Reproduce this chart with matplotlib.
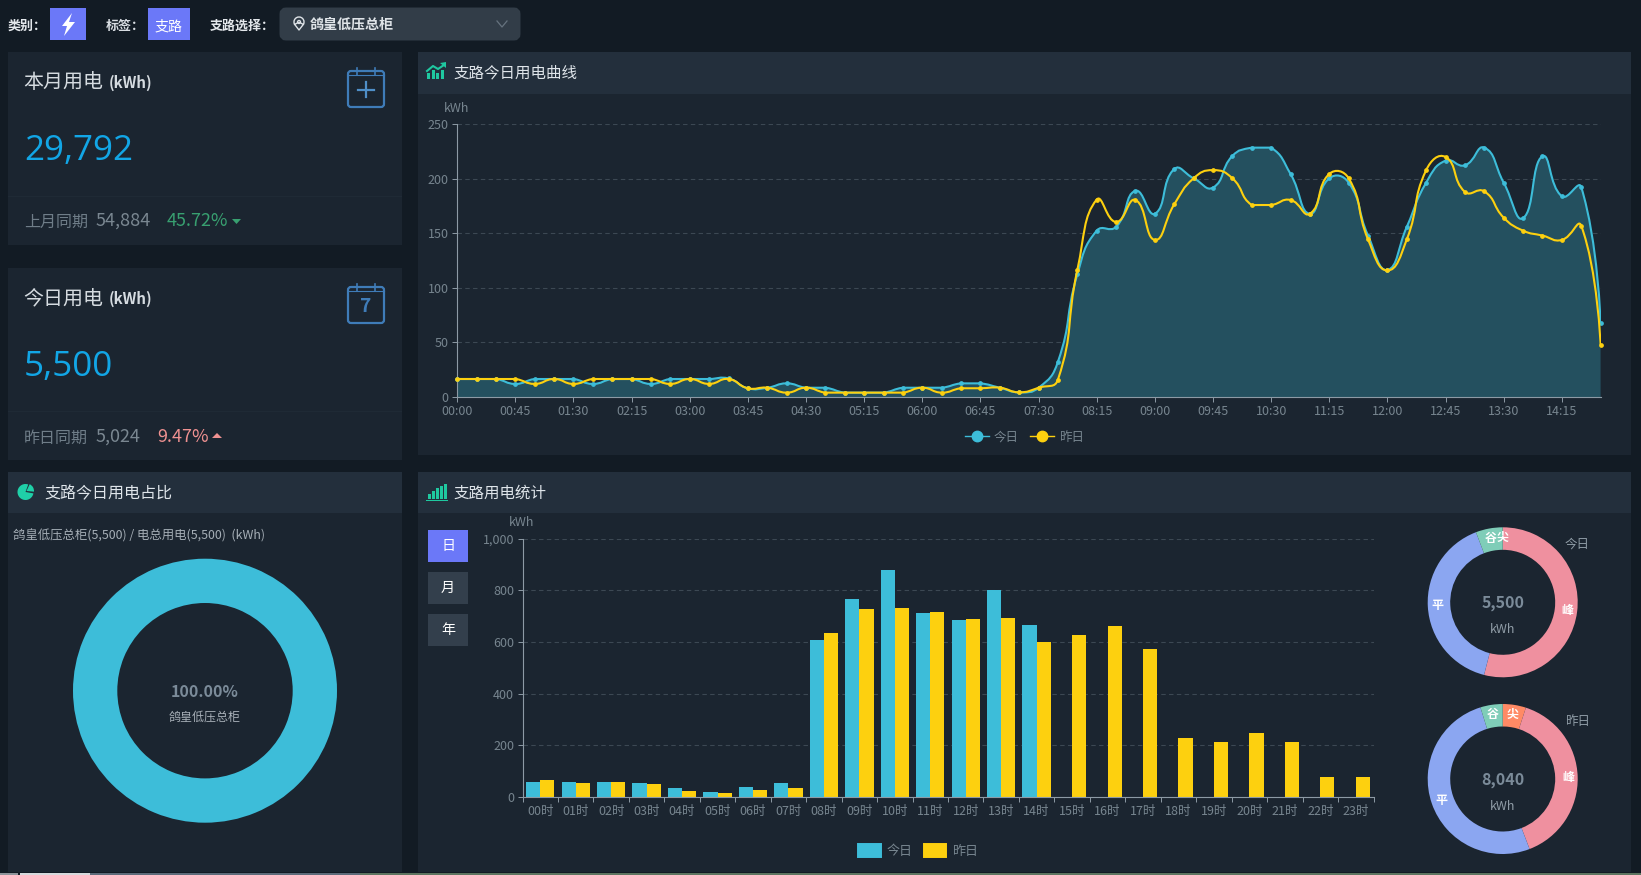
import numpy as np
import matplotlib
matplotlib.use('Agg')
import matplotlib.pyplot as plt
from matplotlib.lines import Line2D
from matplotlib.patches import Rectangle, FancyBboxPatch, PathPatch, Polygon, Circle, Wedge, Patch
from matplotlib.path import Path

plt.rcParams['font.family'] = ['Noto Sans CJK SC', 'DejaVu Sans']

W, H = 1641, 875

# today / yesterday curve, one point per 15 min
curve_ticks = ['00:00', '00:45', '01:30', '02:15', '03:00', '03:45', '04:30', '05:15', '06:00', '06:45',
               '07:30', '08:15', '09:00', '09:45', '10:30', '11:15', '12:00', '12:45', '13:30', '14:15']
curve_today = [16.5, 16.5, 16.5, 12, 16.5, 16.5, 16.5, 12, 16.5, 16.5,
               12, 16.5, 16.5, 16.5, 17, 8, 8.5, 12.5, 8.5, 8.5,
               4, 4, 4, 8.5, 8.5, 8.5, 12.5, 12.5, 8.5, 4.3,
               8.5, 32.4, 112.5, 152.5, 156, 189, 168, 209, 200.5, 192,
               221, 228.6, 228.6, 204.5, 168, 200.5, 196.5, 148, 116.5, 156,
               196.5, 216.7, 212.4, 228.6, 196.5, 164, 220.7, 184, 192.5, 68]
curve_yesterday = [16.5, 16.5, 16.5, 16.5, 12, 16.5, 12, 16.5, 16.5, 16.5,
                   16.5, 12, 16.5, 12, 16.5, 8, 8.5, 4, 8.5, 4,
                   4, 4, 4, 4, 8.5, 4, 8, 8, 8.5, 4.3,
                   8.5, 16, 116.5, 181, 160.5, 180.6, 144, 176.6, 200.5, 208,
                   200.5, 176, 176, 180.6, 168, 204.5, 200.5, 144.5, 116, 144.5,
                   208, 220, 188, 188.5, 164.4, 152.5, 148, 144, 157, 48]

# hourly bars
hours = ['00时', '01时', '02时', '03时', '04时', '05时', '06时', '07时', '08时', '09时', '10时', '11时',
         '12时', '13时', '14时', '15时', '16时', '17时', '18时', '19时', '20时', '21时', '22时', '23时']
hour_today = [60, 60, 60, 56, 36, 19, 40, 53, 609, 768, 881, 713, 686, 802, 665]
hour_yesterday = [65, 56, 60, 52, 23, 16, 27, 36, 636, 728, 733, 717, 690, 693, 602, 629, 661, 573,
                  229, 212, 248, 212, 78, 78]

# donuts
period_names = ['尖', '峰', '平', '谷']
period_today = [0, 2970, 2211, 319]
period_yesterday = [402, 3149, 4103, 386]
share_names = ['鸽皇低压总柜']
share_values = [5500]

BG = '#121b24'
PANEL = '#1b2530'
HEADER = '#232f3c'
BLUE = '#3dbdd9'
YELLOW = '#fdd00f'
TICK = '#77858f'
AXIS = '#8d9aa5'
GRID = '#3c4853'
CAL = '#3f7cb8'
PERIOD_COLORS = ['#ff8a65', '#ef909f', '#8ba6f1', '#7fcdb8']


def fs(px):
    return px * 0.72


def box_axes(fig, left, top, right, bottom):
    return fig.add_axes([left / W, 1 - bottom / H, (right - left) / W, (bottom - top) / H])


def smooth_path(x, y, sx, sy, smooth=0.5):
    # bezier through the points, same tangent rule as the web chart (done in pixel space)
    x = np.asarray(x, float)
    y = np.asarray(y, float)
    n = len(x)
    verts = [(x[0], y[0])]
    codes = [Path.MOVETO]
    after = {}
    before = {}
    for i in range(n):
        if i == 0 or i == n - 1:
            after[i] = (x[i], y[i])
            before[i] = (x[i], y[i])
            continue
        vx = (x[i + 1] - x[i - 1]) * smooth
        vy = (y[i + 1] - y[i - 1]) * smooth
        d0 = np.hypot((x[i] - x[i - 1]) * sx, (y[i] - y[i - 1]) * sy)
        d1 = np.hypot((x[i + 1] - x[i]) * sx, (y[i + 1] - y[i]) * sy)
        total = d0 + d1
        before[i] = (x[i] - vx * d0 / total, y[i] - vy * d0 / total)
        after[i] = (x[i] + vx * d1 / total, y[i] + vy * d1 / total)
    for i in range(n - 1):
        c0 = after[i]
        c1 = before[i + 1]
        # equal neighbours stay flat, no overshoot
        if y[i] == y[i + 1]:
            c0 = (c0[0], y[i])
            c1 = (c1[0], y[i])
        verts += [c0, c1, (x[i + 1], y[i + 1])]
        codes += [Path.CURVE4, Path.CURVE4, Path.CURVE4]
    return verts, codes


fig = plt.figure(figsize=(W / 100, H / 100), dpi=100, facecolor=BG)
bg = fig.add_axes([0, 0, 1, 1])
bg.set_xlim(0, W)
bg.set_ylim(H, 0)
bg.axis('off')


def rect(x0, y0, x1, y1, color, **kw):
    bg.add_patch(Rectangle((x0, y0), x1 - x0, y1 - y0, facecolor=color, edgecolor='none', **kw))


def label(x, y, s, px, color, weight='normal', ha='left', family=None):
    kw = {'family': family} if family else {}
    bg.text(x, y, s, fontsize=fs(px), color=color, weight=weight, ha=ha, va='center', **kw)


# panels
rect(8, 52, 402, 245, PANEL)
rect(8, 196, 402, 197, '#1f2a35')
rect(8, 268, 402, 460, PANEL)
rect(8, 411, 402, 412, '#1f2a35')
rect(8, 472, 402, 872, PANEL)
rect(8, 472, 402, 513, HEADER)
rect(418, 52, 1631, 455, PANEL)
rect(418, 52, 1631, 94, HEADER)
rect(418, 472, 1631, 872, PANEL)
rect(418, 472, 1631, 513, HEADER)
# screenshot edge
rect(0, 873, 18, H, '#8d959b')
rect(20, 873, 90, H, '#d6dadd')
rect(90, 873, 360, H, '#5c6b7a')
rect(360, 873, W, H, '#5d7560')

# top bar
label(8, 26, '类别：', 13, '#e4e8ec', weight='bold')
rect(50, 8, 86, 40, '#6b78f8')
bg.add_patch(Polygon([(72, 13), (62, 26), (67, 26), (64, 36), (75, 22), (69, 22)], facecolor='white', edgecolor='none'))
label(106, 26, '标签：', 13, '#d8dde2', weight='bold')
rect(148, 8, 190, 40, '#6b78f8')
label(169, 26, '支路', 14, 'white', ha='center')
label(210, 26, '支路选择：', 13, '#e4e8ec', weight='bold')
bg.add_patch(FancyBboxPatch((283, 11), 234, 26, boxstyle='round,pad=0,rounding_size=3', mutation_aspect=1,
                            facecolor='#323d48', edgecolor='#323d48', linewidth=5))
bg.add_patch(Wedge((299, 22), 5, 150, 30, facecolor='none', edgecolor='#dfe4e8', linewidth=1))
bg.plot([294.7, 299, 303.3], [24.5, 30, 24.5], color='#dfe4e8', lw=1)
bg.add_patch(Circle((299, 22), 1.6, facecolor='none', edgecolor='#dfe4e8', linewidth=0.8))
label(310, 25, '鸽皇低压总柜', 14, '#dfe4e8', weight='bold')
bg.plot([497, 502, 507], [21, 27, 21], color='#66737f', lw=0.9)

# stat cards
for y0, title, value, prev_name, prev_val, pct, pct_color in [
        (52, '本月用电', '29,792', '上月同期', '54,884', '45.72%', '#38a070'),
        (268, '今日用电', '5,500', '昨日同期', '5,024', '9.47%', '#ef9191')]:
    label(23, y0 + 31, title, 20, '#d5dbe0')
    label(109, y0 + 31, '(kWh)', 15, '#d5dbe0', weight='bold')
    label(24, y0 + 99, value, 35, '#12a6e6', family='Open Sans')
    label(24, y0 + 170, prev_name, 16, '#6f7d88')
    label(96, y0 + 169, prev_val, 18, '#7a8791')
    label(167 if y0 == 52 else 157, y0 + 169, pct, 18, pct_color)
    bg.add_patch(FancyBboxPatch((348, y0 + 19), 36, 36, boxstyle='round,pad=0,rounding_size=3',
                                facecolor='none', edgecolor=CAL, linewidth=1.6))
    bg.plot([357, 357], [y0 + 16, y0 + 23], color=CAL, lw=1.2)
    bg.plot([375, 375], [y0 + 16, y0 + 23], color=CAL, lw=1.2)
    bg.plot([348, 384], [y0 + 23, y0 + 23], color=CAL, lw=0.8)
bg.plot([366, 366], [82, 97], color='#4f8fc8', lw=1.6)
bg.plot([358, 374], [89.5, 89.5], color='#4f8fc8', lw=1.6)
label(366, 306, '7', 19, CAL, weight='bold', ha='center')
bg.add_patch(Polygon([(232, 219), (241, 219), (236.5, 224)], facecolor='#38a070', edgecolor='none'))
bg.add_patch(Polygon([(212, 438), (222, 438), (217, 433)], facecolor='#ef9191', edgecolor='none'))

# panel headers
label(453, 73, '支路今日用电曲线', 15.5, '#dfe5ea')
label(453, 493, '支路用电统计', 15.5, '#dfe5ea')
label(44, 494, '支路今日用电占比', 16, '#dfe5ea')
for dx, h in zip([427, 431.5, 436, 440.5], [6, 9, 6, 9]):
    rect(dx, 79 - h, dx + 3.2, 79, '#1fc8a0')
bg.plot([427, 433, 438, 444], [71, 66, 69, 65], color='#1fc8a0', lw=1.5)
bg.add_patch(Polygon([(446, 62), (440, 63), (446, 68)], facecolor='#1fc8a0', edgecolor='none'))
for dx, h in zip([428, 432, 436, 440, 444], [5, 8, 11, 13, 15]):
    rect(dx, 499 - h, dx + 2.5, 499, '#1fc8a0')
rect(426, 500, 448, 501, '#1fc8a0')
bg.add_patch(Wedge((25.5, 492), 8, 10, 290, facecolor='#1fd0a8', edgecolor='none'))
bg.add_patch(Wedge((26.5, 491), 7.5, 295, 5, facecolor='#1fd0a8', edgecolor='none'))

# curve chart
ax = box_axes(fig, 457.2, 124.3, 1600.6, 397)
ax.patch.set_alpha(0)
xs = np.arange(len(curve_today))
ax.set_xlim(0, len(xs) - 1)
ax.set_ylim(0, 250)
sx = (1600.6 - 457.2) / (len(xs) - 1)
sy = (397 - 124.3) / 250
verts_t, codes_t = smooth_path(xs, curve_today, sx, sy)
verts_y, codes_y = smooth_path(xs, curve_yesterday, sx, sy)
ax.add_patch(PathPatch(Path(verts_t + [(xs[-1], 0), (0, 0), verts_t[0]],
                            codes_t + [Path.LINETO, Path.LINETO, Path.CLOSEPOLY]),
                       facecolor='#24505f', edgecolor='none', zorder=2))
ax.add_patch(PathPatch(Path(verts_t, codes_t), facecolor='none', edgecolor=BLUE, linewidth=1.5, zorder=3))
ax.plot(xs, curve_today, ls='none', marker='o', ms=2.4, color=BLUE, zorder=3, clip_on=False)
ax.add_patch(PathPatch(Path(verts_y, codes_y), facecolor='none', edgecolor=YELLOW, linewidth=1.5, zorder=4))
ax.plot(xs, curve_yesterday, ls='none', marker='o', ms=2.4, color=YELLOW, zorder=4, clip_on=False)
ax.set_xticks(xs[::3])
ax.set_xticklabels(curve_ticks)
ax.set_yticks([0, 50, 100, 150, 200, 250])
ax.grid(axis='y', color=GRID, linestyle=(0, (4, 3)), linewidth=0.8, zorder=1)
ax.legend(handles=[Line2D([], [], color=BLUE, lw=1, marker='o', ms=7.5, label='今日'),
                   Line2D([], [], color=YELLOW, lw=1, marker='o', ms=7.5, label='昨日')],
          loc='center', bbox_to_anchor=((1024.5 - 457.2) / (1600.6 - 457.2), (397 - 437) / (397 - 124.3)),
          ncol=2, frameon=False, fontsize=fs(12.5), labelcolor=TICK, handlelength=1.9,
          handletextpad=0.4, columnspacing=0.9)

# hourly bars
ax2 = box_axes(fig, 522.5, 538.8, 1373.5, 797)
ax2.patch.set_alpha(0)
ax2.set_xlim(-0.5, len(hours) - 0.5)
ax2.set_ylim(0, 1000)
ax2.bar(np.arange(len(hour_today)) - 0.2, hour_today, 0.4, color=BLUE, zorder=2)
ax2.bar(np.arange(len(hour_yesterday)) + 0.2, hour_yesterday, 0.4, color=YELLOW, zorder=2)
ax2.set_xticks(np.arange(len(hours) + 1) - 0.5)
ax2.set_xticklabels([])
ax2.set_xticks(np.arange(len(hours)), minor=True)
ax2.set_xticklabels(hours, minor=True)
ax2.set_yticks([0, 200, 400, 600, 800, 1000])
ax2.set_yticklabels(['0', '200', '400', '600', '800', '1,000'])
ax2.grid(axis='y', color=GRID, linestyle=(0, (4, 3)), linewidth=0.8, zorder=1)
ax2.set_axisbelow(True)
ax2.legend(handles=[Patch(facecolor=BLUE, edgecolor=BLUE, linewidth=1.4, joinstyle='round', label='今日'),
                    Patch(facecolor=YELLOW, edgecolor=YELLOW, linewidth=1.4, joinstyle='round', label='昨日')],
           loc='center', bbox_to_anchor=((918 - 522.5) / 851, (797 - 851) / (797 - 538.8)),
           ncol=2, frameon=False, fontsize=fs(13), labelcolor=TICK, handlelength=1.75, handleheight=1.2,
           handletextpad=0.45, columnspacing=0.85)

for a in (ax, ax2):
    a.spines['top'].set_visible(False)
    a.spines['right'].set_visible(False)
    a.spines['left'].set_color(AXIS)
    a.spines['bottom'].set_color(AXIS)
    a.spines['left'].set_linewidth(0.8)
    a.spines['bottom'].set_linewidth(0.8)
    a.tick_params(axis='both', colors=AXIS, labelcolor=TICK, labelsize=fs(12.5), length=3.6, width=0.7, pad=2.5)
ax2.tick_params(axis='x', which='minor', length=0, labelcolor=TICK, labelsize=fs(12.5), pad=5.5)

label(456.5, 108, 'kWh', 12.5, TICK, ha='center')
label(521.5, 523, 'kWh', 12.5, TICK, ha='center')

# day / month / year tabs
for top, s, c in [(530, '日', '#6b78f8'), (572, '月', '#333f4c'), (614, '年', '#333f4c')]:
    rect(428, top, 468, top + 32, c)
    label(448, top + 16, s, 14, 'white', ha='center')


def donut(cx, cy, r, values, names, colors, width, text_r=None):
    a = box_axes(fig, cx - r, cy - r, cx + r, cy + r)
    wedges, texts = a.pie(values, labels=names, colors=colors, startangle=90, counterclock=False,
                          radius=1, labeldistance=text_r if text_r else None,
                          wedgeprops=dict(width=width, edgecolor='none'))
    a.set_xlim(-1, 1)
    a.set_ylim(-1, 1)
    a.patch.set_alpha(0)
    for t in texts:
        t.set_ha('center')
        t.set_va('center')
        t.set_color('white')
        t.set_fontsize(fs(12))
        t.set_weight('bold')
    return a


# share donut
donut(205, 690.7, 132, share_values, None, [BLUE], 44.3 / 132)
label(13, 536, '鸽皇低压总柜(5,500) / 电总用电(5,500)  (kWh)', 12.4, '#a5aeb6')
label(205, 692, '100.00%', 16, '#7b8b99', weight='bold', ha='center')
label(205, 717, share_names[0], 12, '#a8b0b8', ha='center')

# peak / valley donuts
for cy, vals, name in [(602.3, period_today, '今日'), (779, period_yesterday, '昨日')]:
    donut(1502.7, cy, 75, vals, period_names, PERIOD_COLORS, 22.5 / 75, text_r=0.87)
    label(1502.7, cy + 1, f'{sum(vals):,}', 16, '#7b8b99', weight='bold', ha='center')
    label(1502.7, cy + 27, 'kWh', 12.5, '#8f9ca6', ha='center')
    label(1577.5, cy - 58, name, 12.5, '#8f9ca6', ha='center')

fig.savefig('out.png', dpi=100, facecolor=BG)
